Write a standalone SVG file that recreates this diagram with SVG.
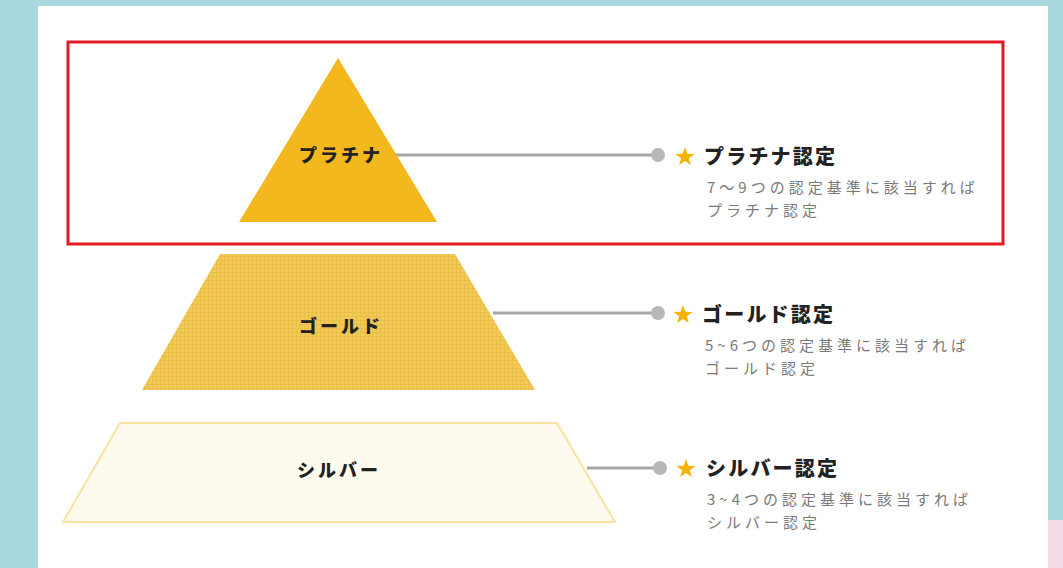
<svg xmlns="http://www.w3.org/2000/svg" width="1063" height="568" viewBox="0 0 1063 568">
<defs>
<style>
.lbl{font-family:"Noto Sans CJK JP","Noto Sans",sans-serif;font-weight:900;font-size:18px;letter-spacing:3px;fill:#222;text-anchor:middle}
.ttl{font-family:"Noto Sans CJK JP","Noto Sans",sans-serif;font-weight:900;font-size:20px;letter-spacing:2.2px;fill:#222}
.sub{font-family:"Noto Sans CJK JP","Noto Sans",sans-serif;font-size:15px;letter-spacing:4px;fill:#7a7a7a}
.con{stroke:#a8a8a8;stroke-width:3;fill:none}
.dot{fill:#b8b8b8}
.star{fill:#f5b300}
</style>
<pattern id="grid" width="4" height="4" patternUnits="userSpaceOnUse">
<rect width="4" height="4" fill="#f3ca55"/>
<path d="M0 0.5H4M0.5 0V4" stroke="#e9bf48" stroke-width="1"/>
</pattern>
<path id="starShape" d="M0,-10 L2.35,-3.24 L9.51,-3.09 L3.8,1.24 L5.88,8.09 L0,4 L-5.88,8.09 L-3.8,1.24 L-9.51,-3.09 L-2.35,-3.24Z"/>
</defs>
<rect width="1063" height="568" fill="#a9d9de"/>
<rect x="1048" y="520" width="15" height="48" fill="#f5dbe8"/>
<rect x="38" y="6" width="1010" height="562" fill="#ffffff"/>
<rect x="68" y="42" width="935" height="202" fill="none" stroke="#e01b24" stroke-width="3"/>
<g id="connectors">
<line class="con" x1="395" y1="155" x2="656" y2="155"/>
<circle class="dot" cx="658" cy="155" r="7"/>
<line class="con" x1="493" y1="313" x2="656" y2="313"/>
<circle class="dot" cx="658" cy="313" r="7"/>
<line class="con" x1="587" y1="468" x2="658" y2="468"/>
<circle class="dot" cx="660" cy="468" r="7"/>
</g>
<g id="platinum">
<polygon points="338,58 437,222 239,222" fill="#f2b81d"/>
<text class="lbl" x="341" y="162">プラチナ</text>
</g>
<g id="gold">
<polygon points="220,254 455,254 535,390 142,390" fill="url(#grid)"/>
<text class="lbl" x="341" y="333">ゴールド</text>
</g>
<g id="silver">
<polygon points="120,423 557,423 615,522 63,522" fill="#fffaee" stroke="#f8e3a2" stroke-width="2"/>
<text class="lbl" x="339" y="477">シルバー</text>
</g>
<g id="platinum-info">
<use href="#starShape" class="star" x="685" y="157"/>
<text class="ttl" x="704" y="164">プラチナ認定</text>
<text class="sub" x="707" y="193">7～9つの認定基準に該当すれば</text>
<text class="sub" x="707" y="216">プラチナ認定</text>
</g>
<g id="gold-info">
<use href="#starShape" class="star" x="683" y="315"/>
<text class="ttl" x="702" y="322">ゴールド認定</text>
<text class="sub" x="705" y="351">5~6つの認定基準に該当すれば</text>
<text class="sub" x="705" y="374">ゴールド認定</text>
</g>
<g id="silver-info">
<use href="#starShape" class="star" x="686" y="469"/>
<text class="ttl" x="706" y="476">シルバー認定</text>
<text class="sub" x="707" y="505">3~4つの認定基準に該当すれば</text>
<text class="sub" x="707" y="528">シルバー認定</text>
</g>
</svg>
